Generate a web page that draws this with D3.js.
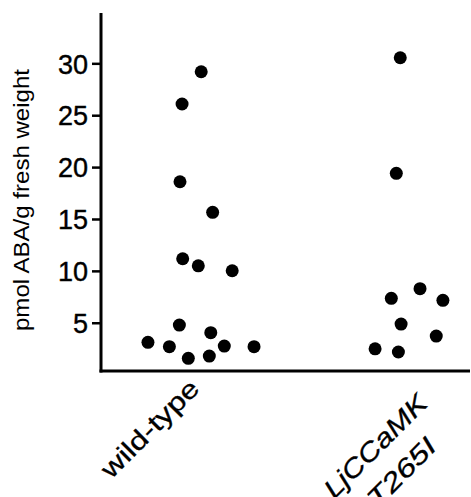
<!DOCTYPE html>
<html><head><meta charset="utf-8">
<script src="https://cdn.jsdelivr.net/npm/d3@7"></script>
<style>body{margin:0;background:#fff}svg{display:block}</style>
</head><body>
<script>
const categories = ["wild-type", "LjCCaMK T265I"];
const wildTypeValues = [29.19, 26.08, 18.59, 15.64, 11.17, 10.49, 10.01, 4.78, 4.04, 3.11, 2.69, 2.75, 1.57, 1.79, 2.69];
const wildTypeJitter = [0.001, -0.091, -0.101, 0.056, -0.088, -0.013, 0.150, -0.104, 0.047, -0.255, -0.152, 0.112, -0.061, 0.040, 0.255];
const mutantValues = [30.54, 19.40, 7.35, 8.28, 7.16, 4.87, 3.72, 2.49, 2.18];
const mutantJitter = [-0.042, -0.061, -0.085, 0.053, 0.163, -0.038, 0.131, -0.163, -0.051];
const yTicks = [5, 10, 15, 20, 25, 30];
const yLabel = "pmol ABA/g fresh weight";

const W = 471, H = 497;
const svg = d3.select("body").append("svg").attr("width", W).attr("height", H);
const font = "'Liberation Sans', Arial, sans-serif";

const x = d3.scalePoint().domain(categories).range([201, 409]);
const step = x.step();
const y = d3.scaleLinear().domain([0.35, 34.85]).range([371, 13]);
const axisLeft = 101, axisRight = 470;

const points = [];
wildTypeValues.forEach((v, i) => points.push({c: categories[0], v, j: wildTypeJitter[i]}));
mutantValues.forEach((v, i) => points.push({c: categories[1], v, j: mutantJitter[i]}));

// dots
svg.append("g").selectAll("circle").data(points).join("circle")
  .attr("cx", d => x(d.c) + d.j * step)
  .attr("cy", d => y(d.v))
  .attr("r", 6.5)
  .attr("fill", "#000");

// y axis
const yAxis = svg.append("g").attr("transform", `translate(${axisLeft},0)`)
  .call(d3.axisLeft(y).tickValues(yTicks).tickSize(9).tickPadding(4).tickSizeOuter(0));
yAxis.select(".domain").remove();
yAxis.selectAll(".tick line").attr("stroke-width", 2.5).attr("stroke", "#000");
yAxis.selectAll(".tick text").attr("font-family", font).attr("font-size", 27).attr("fill", "#000")
  .attr("stroke", "#000").attr("stroke-width", 0.4)
  .attr("dy", "0.36em");
svg.append("line").attr("x1", axisLeft).attr("x2", axisLeft)
  .attr("y1", y.range()[1]).attr("y2", y.range()[0] + 1.5)
  .attr("stroke", "#000").attr("stroke-width", 3);
// x axis
svg.append("line").attr("x1", axisLeft - 1.5).attr("x2", axisRight)
  .attr("y1", y.range()[0]).attr("y2", y.range()[0])
  .attr("stroke", "#000").attr("stroke-width", 3);

// y label
svg.append("text")
  .attr("transform", `translate(29,200) rotate(-90)`)
  .attr("text-anchor", "middle")
  .attr("font-family", font).attr("font-size", 22)
  .attr("textLength", 262).attr("lengthAdjust", "spacingAndGlyphs")
  .text(yLabel);

// x labels
const g1 = svg.append("g").attr("transform", `translate(${x(categories[0])},390) rotate(-45)`);
g1.append("text").attr("text-anchor", "end").attr("font-family", font).attr("font-size", 26)
  .attr("stroke", "#000").attr("stroke-width", 0.3)
  .attr("textLength", 127).attr("lengthAdjust", "spacingAndGlyphs").text("wild-type");

const parts = categories[1].split(" ");
const g2 = svg.append("g").attr("transform", `translate(${x(categories[1]) + 20},405) rotate(-45)`);
g2.append("text").attr("text-anchor", "end").attr("font-family", font).attr("font-size", 26)
  .attr("font-style", "italic").attr("stroke", "#000").attr("stroke-width", 0.3)
  .attr("textLength", 134).attr("lengthAdjust", "spacingAndGlyphs").text(parts[0]);
g2.append("text").attr("text-anchor", "end").attr("font-family", font).attr("font-size", 26)
  .attr("font-style", "italic").attr("stroke", "#000").attr("stroke-width", 0.3)
  .attr("x", -24).attr("y", 37)
  .attr("textLength", 86).attr("lengthAdjust", "spacingAndGlyphs").text(parts[1]);
</script>
</body></html>
